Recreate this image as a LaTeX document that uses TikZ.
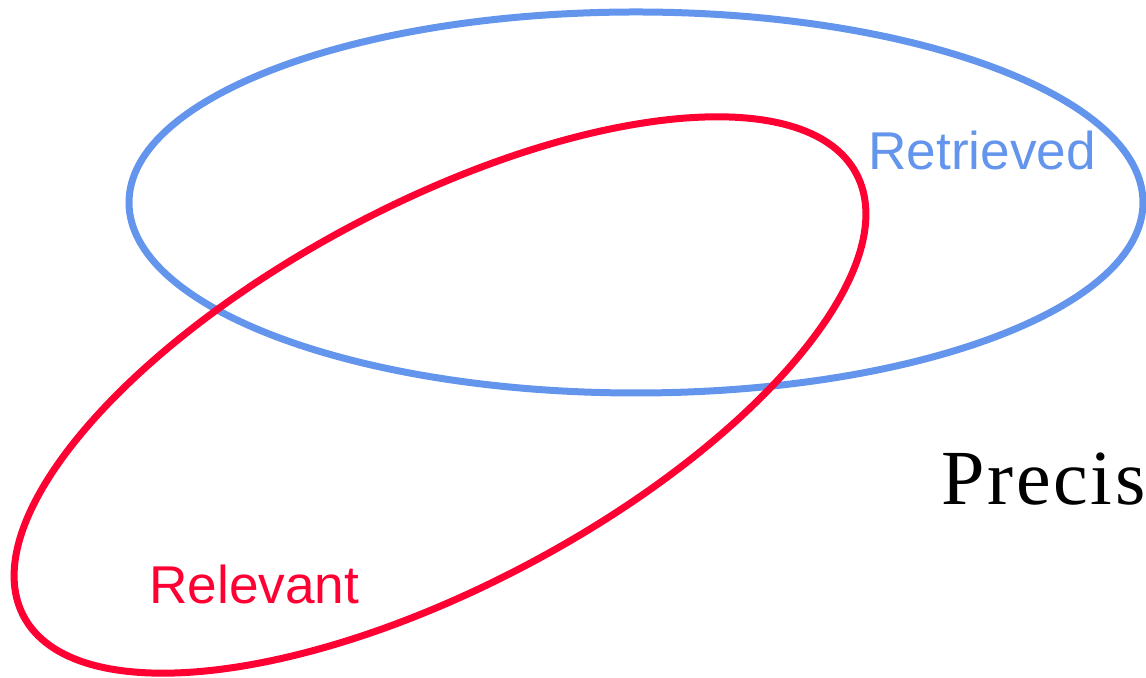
\documentclass[tikz,border=0pt]{standalone}
\usepackage{fontspec}
\setmainfont{Liberation Serif}
\setsansfont{Liberation Sans}
\newfontfamily\precfont[LetterSpace=3.5]{Liberation Serif}
\usetikzlibrary{positioning}
\definecolor{setBlue}{HTML}{6495ED}
\definecolor{setRed}{HTML}{FF0033}

\begin{document}
\begin{tikzpicture}[x=0.5pt,y=0.5pt,
   setline/.style={line width=3.5pt},
   setlabel/.style={font=\sffamily\fontsize{26.6pt}{30pt}\selectfont,
                    anchor=base west,inner sep=0pt}]
  \useasboundingbox (0,0) rectangle (1146,678);
  % the two sets
  \draw[setline,setBlue] (636,475.5) ellipse [x radius=507,y radius=190.5];
  \draw[setline,setRed,rotate around={28:(440,283)}]
    (440,283) ellipse [x radius=471.5,y radius=190.8];
  % labels
  \node[setlabel,text=setBlue] (retr) at (868,508) {Retrieved};
  \node[setlabel,text=setRed] (relv) at (149,74.7) {Relevant};
  \node[anchor=base west,inner sep=0pt,font=\precfont\fontsize{39pt}{44pt}\selectfont]
    (prec) at (941,173) {Precis};
\end{tikzpicture}
\end{document}
